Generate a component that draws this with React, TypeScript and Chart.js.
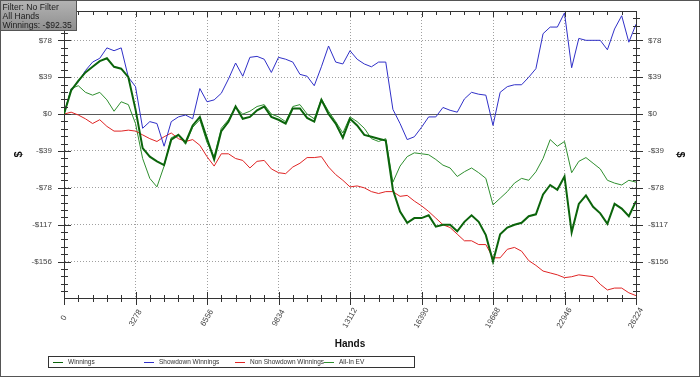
import React, { useEffect, useRef } from 'react';
import { Chart, registerables } from 'chart.js';

Chart.register(...registerables);

const HANDS = [
  0, 328, 656, 983, 1311, 1639, 1967, 2295, 2622, 2950,
  3278, 3606, 3934, 4261, 4589, 4917, 5245, 5573, 5900, 6228,
  6556, 6884, 7212, 7539, 7867, 8195, 8523, 8851, 9178, 9506,
  9834, 10162, 10490, 10817, 11145, 11473, 11801, 12129, 12456, 12784,
  13112, 13440, 13768, 14095, 14423, 14751, 15079, 15407, 15734, 16062,
  16390, 16718, 17046, 17373, 17701, 18029, 18357, 18685, 19012, 19340,
  19668, 19996, 20324, 20651, 20979, 21307, 21635, 21963, 22290, 22618,
  22946, 23274, 23602, 23929, 24257, 24585, 24913, 25241, 25568, 25896,
  26224,
];

const WINNINGS = [
  0, 25, 35, 44, 50, 56, 59, 50, 48, 39,
  5, -36, -45, -50, -54, -27, -22, -30, -12, -3,
  -26, -48, -18, -8, 8, -5, -3, 4, 8, -3,
  -6, -10, 6, 6, -4, -8, 15, 0, -10, -25,
  -5, -12, -22, -24, -26, -28, -80, -103, -115, -110,
  -110, -107, -119, -117, -117, -124, -114, -107, -114, -128,
  -156, -127, -120, -117, -115, -108, -106, -85, -75, -80,
  -66, -125, -95, -86, -98, -105, -116, -95, -100, -108,
  -92,
];

const SHOWDOWN = [
  0, 26, 34, 46, 55, 59, 70, 67, 70, 39,
  29, -15, -8, -10, -34, -8, -3, -1, -5, 27,
  13, 15, 22, 37, 54, 40, 60, 61, 58, 44,
  60, 58, 55, 42, 40, 30, 50, 72, 55, 53,
  67, 58, 53, 50, 55, 55, 5, -10, -27, -24,
  -14, -3, -3, 7, 4, 2, 16, 23, 21, 20,
  -12, 23, 29, 31, 31, 39, 48, 85, 92, 92,
  107, 49, 80, 78, 78, 78, 68, 90, 104, 76,
  95,
];

const NON_SHOWDOWN = [
  0, 2, -1, -5, -10, -6, -13, -18, -18, -17,
  -18, -22, -26, -29, -24, -20, -26, -29, -27, -33,
  -45, -55, -42, -42, -47, -49, -57, -50, -49, -58,
  -62, -63, -56, -52, -46, -46, -45, -56, -64, -70,
  -77, -76, -78, -82, -84, -82, -82, -87, -86, -92,
  -97, -103, -110, -117, -120, -127, -134, -134, -138, -138,
  -152, -152, -143, -141, -145, -155, -160, -166, -168, -170,
  -173, -172, -170, -171, -172, -180, -186, -184, -184, -189,
  -192,
];

const ALL_IN_EV = [
  0, 27, 30, 23, 20, 23, 15, 3, 13, 10,
  -10, -47, -68, -77, -55, -25, -22, -32, -14, -6,
  -30, -45, -15, -6, 7, 0, 3, 8, 10, 0,
  -3, -8, 8, 10, 0, -5, 16, 3, -8, -20,
  -3, -8, -15, -26, -29, -26, -72, -55, -45, -41,
  -42, -43, -48, -54, -57, -66, -61, -57, -62, -68,
  -96, -89, -82, -73, -68, -70, -61, -47, -27, -34,
  -29, -62, -50, -46, -52, -58, -70, -73, -75, -70,
  -72,
];

const X_TICKS = [0, 3278, 6556, 9834, 13112, 16390, 19668, 22946, 26224];
const Y_TICKS = [-156, -117, -78, -39, 0, 39, 78];
const Y_MIN = -194.5;
const Y_MAX = 109;
const SERIES_NAMES = ['Winnings', 'Showdown Winnings', 'Non Showdown Winnings', 'All-In EV'];
const SERIES_COLORS = ['#0b640b', '#3030c8', '#e02424', '#2f8f2f'];
const SERIES_WIDTHS = [2, 1, 1, 1];
const INFO_LINES = ['Filter: No Filter', 'All Hands', 'Winnings: -$92.35'];
const X_TITLE = 'Hands';
const Y_TITLE = '$';

const FONT = '"Liberation Sans", Arial, sans-serif';

const fmtDollar = (v: number) => (v < 0 ? '-$' + Math.abs(v) : '$' + v);

const decorPlugin = {
  id: 'decor',
  beforeDraw(chart: any) {
    const ctx = chart.ctx;
    ctx.save();
    ctx.fillStyle = '#ffffff';
    ctx.fillRect(0, 0, chart.width, chart.height);
    ctx.restore();
  },
  beforeDatasetsDraw(chart: any) {
    const ctx = chart.ctx;
    const { left, right } = chart.chartArea;
    const y0 = Math.round(chart.scales.y.getPixelForValue(0)) + 0.5;
    ctx.save();
    ctx.strokeStyle = '#5a5a5a';
    ctx.lineWidth = 1;
    ctx.beginPath();
    ctx.moveTo(left, y0);
    ctx.lineTo(right, y0);
    ctx.stroke();
    ctx.restore();
  },
  afterDraw(chart: any) {
    const ctx = chart.ctx;
    const { left, right, top, bottom } = chart.chartArea;
    const xs = chart.scales.x;
    const ys = chart.scales.y;
    ctx.save();
    ctx.strokeStyle = '#333';
    ctx.lineWidth = 1;
    // top frame line
    ctx.beginPath();
    ctx.moveTo(left, Math.round(top) + 0.5);
    ctx.lineTo(right + 1, Math.round(top) + 0.5);
    ctx.stroke();

    // x ticks (major + minor)
    const xStep = (X_TICKS[1] - X_TICKS[0]) / 5;
    for (let k = 0; k <= 40; k++) {
      const v = k * xStep;
      const px = Math.round(xs.getPixelForValue(v)) + 0.5;
      const major = k % 5 === 0;
      ctx.beginPath();
      ctx.moveTo(px, bottom - (major ? 6 : 3));
      ctx.lineTo(px, bottom + (major ? 7 : 4));
      ctx.moveTo(px, top);
      ctx.lineTo(px, top + (major ? 6 : 4));
      ctx.stroke();
    }
    // y ticks (major + minor) on both sides
    const yStep = (Y_TICKS[1] - Y_TICKS[0]) / 5;
    for (let k = -24; k <= 13; k++) {
      const v = k * yStep;
      if (v < Y_MIN || v > Y_MAX) continue;
      const py = Math.round(ys.getPixelForValue(v)) + 0.5;
      const major = k % 5 === 0;
      const a = major ? 6 : 3;
      ctx.beginPath();
      ctx.moveTo(left - a, py);
      ctx.lineTo(left + a + 1, py);
      ctx.moveTo(right - a, py);
      ctx.lineTo(right + a + 1, py);
      ctx.stroke();
    }

    // x tick labels, rotated
    ctx.fillStyle = '#444';
    ctx.font = '8px ' + FONT;
    ctx.textAlign = 'center';
    ctx.textBaseline = 'middle';
    for (const v of X_TICKS) {
      const px = xs.getPixelForValue(v);
      ctx.save();
      ctx.translate(px, bottom + 20);
      ctx.rotate(-Math.PI / 3);
      ctx.fillText(String(v), 0, 0);
      ctx.restore();
    }

    // legend box
    ctx.strokeStyle = '#333';
    ctx.strokeRect(48.5, 356.5, 366, 11);
    const legendX = [53, 144, 235, 324];
    ctx.font = '6.5px ' + FONT;
    ctx.textAlign = 'left';
    ctx.fillStyle = '#333';
    chart.data.datasets.forEach((ds: any, i: number) => {
      const x0 = legendX[i];
      ctx.strokeStyle = ds.borderColor;
      ctx.lineWidth = 1;
      ctx.beginPath();
      ctx.moveTo(x0, 362.5);
      ctx.lineTo(x0 + 10, 362.5);
      ctx.stroke();
      ctx.fillText(ds.label, x0 + 15, 362.5);
    });

    // info box
    const g = ctx.createLinearGradient(0, 0, 0, 31);
    g.addColorStop(0, '#b4b4b4');
    g.addColorStop(1, '#8e8e8e');
    ctx.fillStyle = g;
    ctx.fillRect(0, 0, 77, 31);
    ctx.strokeStyle = '#555';
    ctx.strokeRect(0.5, 0.5, 76, 30);
    ctx.fillStyle = '#1c1c1c';
    ctx.font = '8.6px ' + FONT;
    INFO_LINES.forEach((t, i) => ctx.fillText(t, 2.5, 7.5 + i * 9.3));

    // outer frame
    ctx.strokeStyle = '#555';
    ctx.strokeRect(0.5, 0.5, chart.width - 1, chart.height - 1);
    ctx.restore();
  },
};

export default function App() {
  const ref = useRef<HTMLCanvasElement | null>(null);
  useEffect(() => {
    document.body.style.margin = '0';
    const canvas = ref.current;
    if (!canvas) return;
    const series = [WINNINGS, SHOWDOWN, NON_SHOWDOWN, ALL_IN_EV];
    const datasets = series.map((arr, i) => ({
      label: SERIES_NAMES[i],
      data: HANDS.map((h, j) => ({ x: h, y: arr[j] })),
      borderColor: SERIES_COLORS[i],
      backgroundColor: SERIES_COLORS[i],
      borderWidth: SERIES_WIDTHS[i],
      pointRadius: 0,
      tension: 0,
      fill: false,
      yAxisID: 'y',
    }));
    const yTicksCfg = {
      font: { size: 8, family: FONT },
      color: '#444',
      padding: 12,
      callback: (v: any) => fmtDollar(Number(v)),
    };
    const fitY = (s: any) => {
      s.width = 64;
      s.paddingTop = 0;
      s.paddingBottom = 0;
    };
    const chart = new Chart(canvas, {
      type: 'line',
      data: { datasets },
      plugins: [decorPlugin],
      options: {
        animation: false,
        responsive: false,
        events: [],
        layout: { padding: { top: 11, left: 0, right: 0, bottom: 0 } },
        plugins: { legend: { display: false }, tooltip: { enabled: false } },
        scales: {
          x: {
            type: 'linear',
            position: 'bottom',
            min: 0,
            max: 26224,
            afterBuildTicks: (s: any) => {
              s.ticks = X_TICKS.map((v) => ({ value: v }));
            },
            afterFit: (s: any) => {
              s.height = 79;
              s.paddingLeft = 0;
              s.paddingRight = 0;
            },
            ticks: { display: false },
            grid: {
              drawTicks: false,
              color: (c: any) =>
                c.tick && (c.tick.value === 0 || c.tick.value === 26224) ? 'rgba(0,0,0,0)' : '#a0a0a0',
            },
            border: { display: true, color: '#333', width: 1, dash: [1, 2] },
            title: {
              display: true,
              text: X_TITLE,
              font: { size: 10, weight: 'bold', family: FONT },
              color: '#111',
              padding: { top: 0, bottom: 27 },
            },
          },
          y: {
            type: 'linear',
            position: 'left',
            min: Y_MIN,
            max: Y_MAX,
            afterBuildTicks: (s: any) => {
              s.ticks = Y_TICKS.map((v) => ({ value: v }));
            },
            afterFit: fitY,
            ticks: yTicksCfg,
            grid: {
              drawTicks: false,
              color: (c: any) => (c.tick && c.tick.value === 0 ? 'rgba(0,0,0,0)' : '#a0a0a0'),
            },
            border: { display: true, color: '#333', width: 1, dash: [1, 2] },
            title: {
              display: true,
              text: Y_TITLE,
              font: { size: 11, weight: 'bold', family: FONT },
              color: '#111',
              padding: { top: 12, bottom: 0 },
            },
          },
          y2: {
            type: 'linear',
            position: 'right',
            min: Y_MIN,
            max: Y_MAX,
            afterBuildTicks: (s: any) => {
              s.ticks = Y_TICKS.map((v) => ({ value: v }));
            },
            afterFit: fitY,
            ticks: yTicksCfg,
            grid: { drawTicks: false, drawOnChartArea: false },
            border: { display: true, color: '#333', width: 1 },
            title: {
              display: true,
              text: Y_TITLE,
              font: { size: 11, weight: 'bold', family: FONT },
              color: '#111',
              padding: { top: 13, bottom: 0 },
            },
          },
        },
      },
    } as any);
    return () => chart.destroy();
  }, []);
  return <canvas ref={ref} width={700} height={377} style={{ display: 'block', width: 700, height: 377 }} />;
}
